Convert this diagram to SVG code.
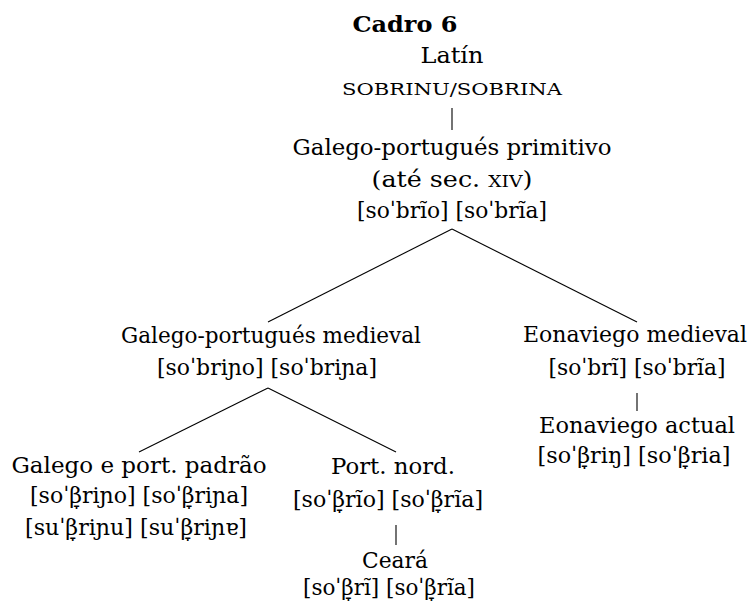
<svg xmlns="http://www.w3.org/2000/svg" width="753" height="611" viewBox="0 0 753 611">
<style>
text{font-family:"DejaVu Serif",serif;font-size:23px;fill:#000;text-anchor:middle}
.b{font-weight:bold}
.sc{font-size:17px}
.n{font-size:21.5px}
.e{stroke:#000;stroke-width:1.1;fill:none}
</style>
<rect width="753" height="611" fill="#fff"/>
<text class="b" x="405" y="32" textLength="105" lengthAdjust="spacingAndGlyphs">Cadro 6</text>
<g id="latin">
<text x="452" y="63" textLength="63" lengthAdjust="spacingAndGlyphs">Latín</text>
<text class="sc" x="452" y="95" textLength="220" lengthAdjust="spacingAndGlyphs">SOBRINU/SOBRINA</text>
</g>
<g id="gp-primitivo">
<text x="452" y="155" textLength="319" lengthAdjust="spacingAndGlyphs">Galego-portugués primitivo</text>
<text x="452" y="187" textLength="161" lengthAdjust="spacingAndGlyphs">(até sec. <tspan class="sc">XIV</tspan>)</text>
<text x="452" y="218" textLength="190" lengthAdjust="spacingAndGlyphs">[soˈbrĩo] [soˈbrĩa]</text>
</g>
<g id="gp-medieval">
<text x="271" y="343" textLength="300" lengthAdjust="spacingAndGlyphs">Galego-portugués medieval</text>
<text x="267" y="375" textLength="220" lengthAdjust="spacingAndGlyphs">[soˈbriɲo] [soˈbriɲa]</text>
</g>
<g id="eo-medieval">
<text class="n" x="635" y="342" textLength="224" lengthAdjust="spacingAndGlyphs">Eonaviego medieval</text>
<text x="637" y="375" textLength="177" lengthAdjust="spacingAndGlyphs">[soˈbrĩ] [soˈbrĩa]</text>
</g>
<g id="eo-actual">
<text x="637" y="433" textLength="196" lengthAdjust="spacingAndGlyphs">Eonaviego actual</text>
<text x="634" y="463" textLength="193" lengthAdjust="spacingAndGlyphs">[soˈβ̞riŋ] [soˈβ̞ria]</text>
</g>
<g id="galego-padrao">
<text x="139" y="473" textLength="255" lengthAdjust="spacingAndGlyphs">Galego e port. padrão</text>
<text x="139" y="503" textLength="218" lengthAdjust="spacingAndGlyphs">[soˈβ̞riɲo] [soˈβ̞riɲa]</text>
<text x="136" y="535" textLength="222" lengthAdjust="spacingAndGlyphs">[suˈβ̞riɲu] [suˈβ̞riɲɐ]</text>
</g>
<g id="port-nord">
<text x="393" y="474" textLength="124" lengthAdjust="spacingAndGlyphs">Port. nord.</text>
<text x="388" y="507" textLength="190" lengthAdjust="spacingAndGlyphs">[soˈβ̞rĩo] [soˈβ̞rĩa]</text>
</g>
<g id="ceara">
<text x="395" y="568" textLength="66" lengthAdjust="spacingAndGlyphs">Ceará</text>
<text x="389" y="595" textLength="172" lengthAdjust="spacingAndGlyphs">[soˈβ̞rĩ] [soˈβ̞rĩa]</text>
</g>
<g id="connectors">
<line class="e" x1="452" y1="108" x2="452" y2="130"/>
<line class="e" x1="452" y1="229" x2="268" y2="322"/>
<line class="e" x1="452" y1="229" x2="637" y2="322"/>
<line class="e" x1="268" y1="388" x2="139" y2="452"/>
<line class="e" x1="268" y1="388" x2="396" y2="452"/>
<line class="e" x1="637" y1="393" x2="637" y2="411"/>
<line class="e" x1="396" y1="525" x2="396" y2="545"/>
</g>
</svg>
